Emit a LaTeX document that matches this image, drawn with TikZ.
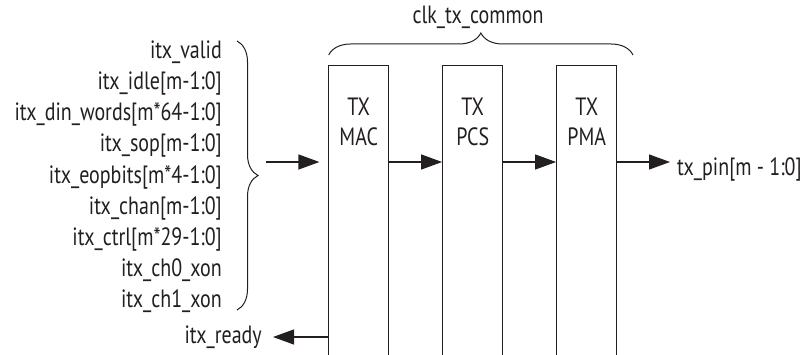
\documentclass[tikz,border=0pt]{standalone}
\usepackage{fontspec}
\setmainfont{PT Sans}[FakeStretch=0.8]
\usetikzlibrary{arrows.meta,decorations.pathreplacing}
\definecolor{ink}{HTML}{231F20}
\begin{document}
\begin{tikzpicture}[x=1pt,y=1pt,
  every node/.style={text=ink, font=\fontsize{25}{30}\selectfont, inner sep=0pt},
  blockbox/.style={draw=ink, line width=1.2pt, minimum width=60pt, minimum height=294.3pt},
  blocklabel/.style={align=center, anchor=base},
  sig/.style={anchor=base east},
  arr/.style={draw=ink, line width=1.2pt, -{Triangle[length=21pt,width=15pt]}},
  bracepath/.style={draw=ink, line width=1pt, decorate}
]
\useasboundingbox (0,0) rectangle (802,354);
\clip (0,0) rectangle (802,354);

% blocks
\node[blockbox] (mac) at (358.7,141.15) {};
\node[blockbox] (pcs) at (472.7,141.15) {};
\node[blockbox] (pma) at (586.7,141.15) {};
\node[blocklabel] (macl) at (358.7,209) {TX\\MAC};
\node[blocklabel] (pcsl) at (472.7,209) {TX\\PCS};
\node[blocklabel] (pmal) at (586.7,209) {TX\\PMA};

% left signal labels
\node[sig] (s1) at (222,295.7) {itx\_valid};
\node[sig] (s2) at (222,264.5) {itx\_idle[m-1:0]};
\node[sig] (s3) at (222,233.3) {itx\_din\_words[m*64-1:0]};
\node[sig] (s4) at (222,202.1) {itx\_sop[m-1:0]};
\node[sig] (s5) at (222,170.9) {itx\_eopbits[m*4-1:0]};
\node[sig] (s6) at (222,139.7) {itx\_chan[m-1:0]};
\node[sig] (s7) at (222,108.5) {itx\_ctrl[m*29-1:0]};
\node[sig] (s8) at (222,77.3) {itx\_ch0\_xon};
\node[sig] (s9) at (222,46.1) {itx\_ch1\_xon};

% braces
\coordinate (lbt) at (237,313);
\coordinate (lbb) at (237,44);
\draw[bracepath, decoration={brace,amplitude=21pt}] (lbt) -- (lbb);
\coordinate (tbl) at (328.7,299);
\coordinate (tbr) at (633,299);
\draw[bracepath, decoration={brace,amplitude=22pt}] (tbl) -- (tbr);
\node[anchor=base] (clk) at (478,330.7) {clk\_tx\_common};

% data path
\coordinate (in) at (266,192);
\draw[arr, shorten >=8.7pt] (in) -- (mac.west |- in);
\draw[arr] (mac.east |- in) -- (pcs.west |- in);
\draw[arr] (pcs.east |- in) -- (pma.west |- in);
\coordinate (out) at (670,192);
\draw[arr] (pma.east |- in) -- (out);
\node[anchor=base west] (txpin) at (677,179) {tx\_pin[m - 1:0]};

% ready
\coordinate (rdy) at (273,17);
\draw[arr] (mac.west |- rdy) -- (rdy);
\node[sig] (ready) at (262,11) {itx\_ready};
\end{tikzpicture}
\end{document}
